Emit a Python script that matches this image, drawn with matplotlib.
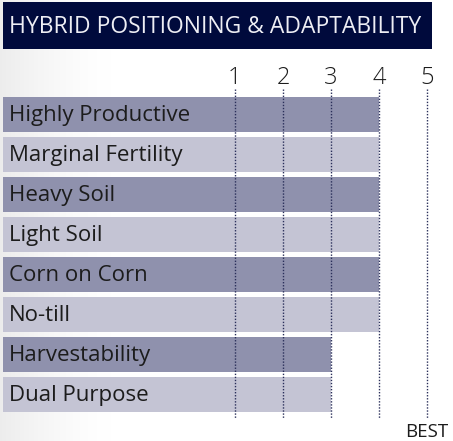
import matplotlib
matplotlib.use("Agg")
import matplotlib.pyplot as plt
import numpy as np
from matplotlib.patches import Rectangle

title = "HYBRID POSITIONING & ADAPTABILITY"
categories = ["Highly Productive", "Marginal Fertility", "Heavy Soil", "Light Soil",
              "Corn on Corn", "No-till", "Harvestability", "Dual Purpose"]
scores = [4, 4, 4, 4, 4, 4, 3, 3]
tick_values = [1, 2, 3, 4, 5]
best_label = "BEST"

W, H = 453, 441
fig = plt.figure(figsize=(W / 100, H / 100), dpi=100)
fig.patch.set_facecolor("white")

# subtle left-side gradient background
bg = fig.add_axes([0, 0, 1, 1], zorder=0)
grad = np.linspace(0, 1, 200)
alpha = np.clip(1 - grad / 0.25, 0, 1) ** 1.5
img = np.ones((1, 200, 4))
img[..., :3] = 0.91
img[0, :, 3] = alpha * 0.8
bg.imshow(img, aspect="auto", extent=[0, 1, 0, 1])
bg.set_axis_off()

FONT = "Open Sans"

# pixel mapping: value v -> x pixel 187 + 48 v ; row i -> y pixel 114.5 + 40 i
px0, pxs = 187.0, 48.0
py0, pys = 114.5, 40.0
ax = fig.add_axes([0, 0, 1, 1], zorder=1)
ax.patch.set_alpha(0)
xmin = (0 - px0) / pxs
xmax = (W - px0) / pxs
ax.set_xlim(xmin, xmax)
ax.set_ylim((H - py0) / pys, (0 - py0) / pys)
ax.set_axis_off()

bar_left = (3 - px0) / pxs
dark = "#8f91ad"
light = "#c4c4d4"
ypos = np.arange(len(categories))
colors = [dark if i % 2 == 0 else light for i in ypos]
ax.barh(ypos, np.array(scores) - bar_left, left=bar_left, height=0.875,
        color=colors, edgecolor="none", zorder=1)

label_x = (9 - px0) / pxs
for i, c in enumerate(categories):
    ax.text(label_x, i + 0.03, c, va="center", ha="left", fontsize=16,
            color="#1c1c1c", family=FONT, zorder=3)

# dotted gridlines
ytop = (89 - py0) / pys
ybot = (418 - py0) / pys
for v in tick_values:
    ax.plot([v, v], [ytop, ybot], linestyle=(0, (1, 1.2)), color="#2a2f5a",
            linewidth=1.0, zorder=2)
    ax.text(v, (90 - py0) / pys, str(v), ha="center", va="bottom",
            fontsize=17, color="#1c1c1c", family=FONT, fontweight="light", zorder=3)

ax.text(tick_values[-1], (441 - py0) / pys, best_label, ha="center", va="bottom",
        fontsize=13.5, color="#1c1c1c", family=FONT, zorder=3)

# title bar
fig.patches.append(Rectangle((3 / W, 1 - 49 / H), (432 - 3) / W, 47 / H,
                             transform=fig.transFigure, facecolor="#000a3c",
                             edgecolor="none", zorder=5))
fig.text(9 / W, 1 - 27 / H, title, ha="left", va="center", fontsize=16.5,
         color="#eeeef4", family=FONT, zorder=6)

fig.savefig("out.png", dpi=100)
